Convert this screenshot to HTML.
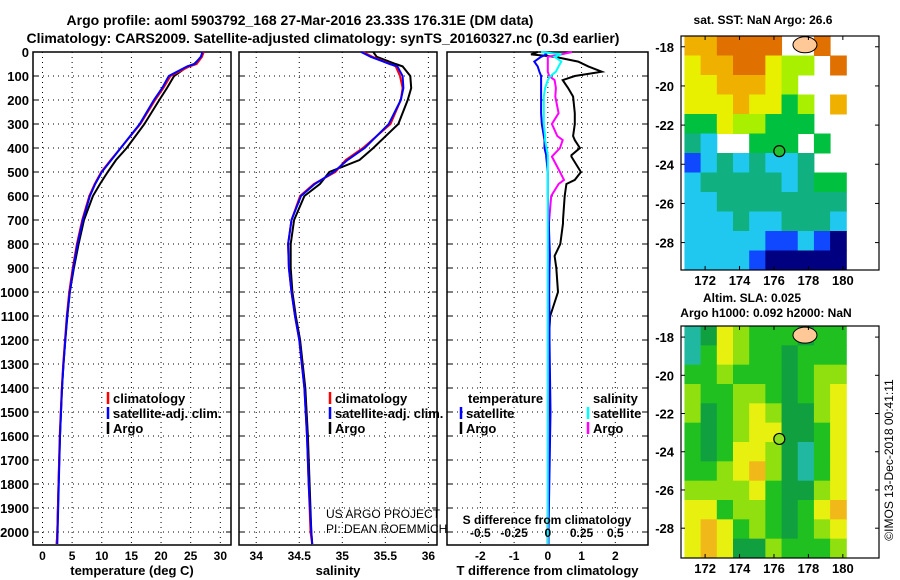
<!DOCTYPE html>
<html><head><meta charset="utf-8"><style>
html,body{margin:0;padding:0;background:#fff}
svg{display:block;font-family:"Liberation Sans",sans-serif}
text{font-weight:bold}
</style></head><body>
<svg id="s" width="900" height="580" viewBox="0 0 900 580" xmlns="http://www.w3.org/2000/svg">
<text x="300" y="25" font-size="14" text-anchor="middle">Argo profile: aoml 5903792_168 27-Mar-2016 23.33S 176.31E (DM data)</text>
<text x="323" y="43" font-size="14" text-anchor="middle">Climatology: CARS2009. Satellite-adjusted climatology: synTS_20160327.nc (0.3d earlier)</text>
<g id="g"></g>
</svg>
<script>
// ---- data ----
const depths = [0,20,50,60,100,150,200,300,400,450,500,550,600,700,800,900,1000,1100,1200,1300,1400,1600,1800,2000,2050];
const tempArgo = [27,26.8,25.6,24.5,22.2,21.0,19.7,17.2,14.2,12.4,11.0,9.7,8.5,7.0,6.1,5.3,4.6,4.2,3.85,3.55,3.3,2.95,2.7,2.5,2.4];
const tempClim = [27.2,26.9,26.0,24.8,21.6,20.4,19.0,16.5,13.2,11.5,9.9,8.8,7.9,6.7,5.8,5.1,4.5,4.1,3.8,3.5,3.25,2.9,2.7,2.5,2.4];
const tempSat  = [27.0,26.7,25.7,24.4,21.3,20.2,18.8,16.4,13.2,11.6,10.0,8.9,8.0,6.8,5.9,5.2,4.6,4.15,3.85,3.55,3.3,2.95,2.75,2.55,2.5];
const salArgo = [35.36,35.40,35.62,35.70,35.79,35.80,35.76,35.65,35.36,35.20,34.85,34.74,34.56,34.44,34.40,34.40,34.42,34.46,34.51,34.54,34.57,34.60,34.62,34.64,34.65];
const salClim = [35.24,35.35,35.56,35.62,35.67,35.70,35.68,35.56,35.24,35.04,34.92,34.67,34.51,34.41,34.37,34.38,34.41,34.45,34.50,34.53,34.56,34.59,34.61,34.63,34.65];
const salSat  = [35.22,35.33,35.55,35.64,35.70,35.71,35.68,35.54,35.26,35.06,34.90,34.68,34.52,34.41,34.37,34.38,34.41,34.45,34.50,34.53,34.56,34.59,34.61,34.64,34.65];
const dDepth = [0,10,20,40,60,82,100,117,150,186,255,300,350,367,400,430,436,500,533,550,600,700,714,800,850,900,1000,1100,1200,1500,2000,2050];
const dTArgo = [-0.3,-0.5,0.2,0.9,1.2,1.6,0.8,0.44,0.6,0.75,0.8,0.8,0.75,0.8,0.95,0.7,0.7,0.98,0.8,0.55,0.5,0.45,0.45,0.37,0.2,0.25,0.3,0.07,0.03,0.02,0.0,0.0];
const dTSat  = [-0.1,-0.05,-0.2,-0.4,-0.3,-0.25,-0.2,-0.2,-0.2,-0.2,-0.2,-0.18,-0.12,-0.1,-0.1,-0.05,-0.05,0.0,0.0,0.0,0.0,0.02,0.03,0.05,0.06,0.05,0.04,0.05,0.05,0.08,0.02,0.02];
const dSArgo = [0.18,0.1,0.0,0.0,0.0,0.0,0.01,0.05,0.06,0.055,0.08,0.03,0.07,0.11,0.09,0.04,0.03,0.09,0.12,0.08,0.025,0.01,0.008,0.005,0.003,0.0,0.0,0.0,0.0,0.0,0.0,0.0];
const dSSat  = [-0.05,0.1,0.05,0.1,0.08,0.06,0.02,0.0,-0.02,-0.03,-0.03,-0.03,-0.02,-0.02,-0.01,0.0,0.0,0.0,0.0,0.0,0.0,0.0,0.0,0.0,0.0,0.0,0.0,0.0,0.0,0.0,0.0,0.0];
const depthTicks = [0,100,200,300,400,500,600,700,800,900,1000,1100,1200,1300,1400,1500,1600,1700,1800,1900,2000];
const tTicks = [0,5,10,15,20,25,30];
const sTicks = [34,34.5,35,35.5,36];
const dTicks = [-2,-1,0,1,2];
const dsTicks = [-0.5,-0.25,0,0.25,0.5];
const dsLabels = ["-0.5","-0.25","0","0.25","0.5"];
const lonTicks = [172,174,176,178,180];
const latTicks = [-18,-20,-22,-24,-26,-28];
const sstGrid = [
[7,7,8,8,8,8,-1,-1,8,-1],
[6,7,7,8,8,6,5,5,-1,8],
[6,6,7,7,7,6,5,-1,-1,-1],
[6,6,6,7,6,6,4,5,-1,7],
[4,4,6,5,5,4,4,4,-1,-1],
[3,2,-1,-1,4,4,4,-1,4,-1],
[1,2,3,2,3,2,2,3,-1,-1],
[2,3,3,3,3,3,2,3,4,4],
[2,2,3,3,3,3,3,3,3,3],
[2,2,2,3,2,2,3,3,3,2],
[2,2,2,2,2,1,1,2,1,0],
[2,2,2,2,1,0,0,0,0,0]];
const slaGrid = [
[0,1,4,3,2,2,2,1,2,2],
[0,2,4,3,2,2,1,2,2,2],
[2,2,3,2,2,2,1,2,3,3],
[3,2,2,3,3,2,1,2,3,4],
[3,1,2,3,4,3,1,1,3,4],
[2,1,2,3,4,4,1,1,2,4],
[2,1,2,4,4,3,1,0,2,4],
[2,2,3,4,5,3,1,0,2,4],
[3,3,3,3,4,2,1,1,3,4],
[4,4,2,3,3,2,1,2,4,5],
[4,5,4,2,3,2,1,2,3,4],
[4,5,4,1,1,3,2,2,2,3]];
const argoLon = 176.31, argoLat = -23.33;

const sstColors = ['#000080','#1048ff','#20c8f0','#10b080','#00c040','#a8f000','#e8f000','#f0b000','#e07000','#ff1000'];
const slaColors = ['#20b8a0','#10a040','#20c020','#90e010','#e8f010','#f0b818'];
const NS='http://www.w3.org/2000/svg';
const G=document.getElementById('g');
function el(t,a,p){const e=document.createElementNS(NS,t);for(const k in a)e.setAttribute(k,a[k]);(p||G).appendChild(e);return e;}
const Y0=52,Y1=545, yD=d=>Y0+d*0.24;
function panel(name,x0,x1,d0,d1,ticks,labels,xlabel,showY){
  const sx=v=>x0+(v-d0)/(d1-d0)*(x1-x0);
  const g=el('g',{});
  
  
  ticks.forEach((t,i)=>{
    const l=el('line',{x1:sx(t),x2:sx(t),y1:Y0,y2:Y1,stroke:'#000','stroke-width':1,'stroke-dasharray':'1,4'},g);
    
    const tx=el('text',{x:sx(t),y:Y1+15,'font-size':12,'text-anchor':'middle'},g);
    
    tx.textContent=labels?labels[i]:String(t);
  });
  depthTicks.forEach(d=>{
    const l=el('line',{x1:x0,x2:x1,y1:yD(d),y2:yD(d),stroke:'#000','stroke-width':1,'stroke-dasharray':'1,4'},g);
    
    el('line',{x1:x0,x2:x0+5,y1:yD(d),y2:yD(d),stroke:'#000'},g);
    el('line',{x1:x1-5,x2:x1,y1:yD(d),y2:yD(d),stroke:'#000'},g);
    if(showY){const tx=el('text',{x:x0-4,y:yD(d)+5,'font-size':13,'text-anchor':'end'},g);
      tx.textContent=d;}
  });
  const r=el('rect',{x:x0,y:Y0,width:x1-x0,height:Y1-Y0,fill:'none',stroke:'#000','stroke-width':1.5},g);
  
  const xl=el('text',{x:(x0+x1)/2,y:575,'font-size':13,'text-anchor':'middle'},g);
  xl.textContent=xlabel;
  return sx;
}
function line(sx,vals,ds,color,name,scale){
  const pts=vals.map((v,i)=>sx(v*(scale||1)).toFixed(1)+','+yD(ds[i]).toFixed(1)).join(' ');
  const p=el('polyline',{points:pts,fill:'none',stroke:color,'stroke-width':2});
  
}
function legend(x,y,color,label,name){
  const l=el('line',{x1:x,x2:x,y1:y-11,y2:y+1,stroke:color,'stroke-width':2.5});
  
  const t=el('text',{x:x+5,y:y,'font-size':13});
  t.textContent=label;
}
// panel 1
const s1=panel('temperature-panel',33,231,-1.6,31.8,tTicks,null,'temperature (deg C)',true);
line(s1,tempArgo,depths,'#000','temp-argo-line');
line(s1,tempClim,depths,'#f00','temp-clim-line');
line(s1,tempSat,depths,'#00f','temp-sat-line');
legend(108,403,'#f00','climatology','legend-climatology');
legend(108,418,'#00f','satellite-adj. clim.','legend-satellite');
legend(108,433,'#000','Argo','legend-argo');
// panel 2
const s2=panel('salinity-panel',239,437,33.8,36.1,sTicks,null,'salinity',false);
line(s2,salArgo,depths,'#000','sal-argo-line');
line(s2,salClim,depths,'#f00','sal-clim-line');
line(s2,salSat,depths,'#00f','sal-sat-line');
legend(330,403,'#f00','climatology','legend-climatology-2');
legend(330,418,'#00f','satellite-adj. clim.','legend-satellite-2');
legend(330,433,'#000','Argo','legend-argo-2');
[['US ARGO PROJECT',518],['PI: DEAN ROEMMICH',533]].forEach(([t,y])=>{
  const e=el('text',{x:326,y:y,'font-size':12,style:'font-weight:normal'});
  e.textContent=t;});
// panel 3
const s3=panel('difference-panel',447,648,-2.99,2.97,dTicks,null,'T difference from climatology',false);
line(s3,dTArgo,dDepth,'#000','tdiff-argo-line');
line(s3,dSArgo,dDepth,'#ff00ff','sdiff-argo-line',4);
line(s3,dTSat,dDepth,'#00f','tdiff-sat-line');
line(s3,dSSat,dDepth,'#00ffff','sdiff-sat-line',4);
dsTicks.forEach((t,i)=>{const e=el('text',{x:s3(t*4),y:537,'font-size':12,'text-anchor':'middle'});
  e.textContent=dsLabels[i];});
{const e=el('text',{x:547,y:524,'font-size':12,'text-anchor':'middle'});e.textContent='S difference from climatology';}
{const e=el('text',{x:468,y:403,'font-size':13});e.textContent='temperature';}
{const e=el('text',{x:593,y:403,'font-size':13});e.textContent='salinity';}
legend(461,418,'#00f','satellite','legend-t-satellite');
legend(461,433,'#000','Argo','legend-t-argo');
legend(588,418,'#00ffff','satellite','legend-s-satellite');
legend(588,433,'#ff00ff','Argo','legend-s-argo');
// maps
function map(name,grid,colors,y0,y1,latTop,latBot,titles,markerColor){
  const x0=681,x1=879,lonL=170.6,lonR=182.1;
  const mx=l=>x0+(l-lonL)/(lonR-lonL)*(x1-x0);
  const my=l=>y0+(latTop-l)/(latTop-latBot)*(y1-y0);
  const g=el('g',{});
  const rows=grid.length, cols=grid[0].length;
  const gLonL=170.8,gLonR=180.2,gLatT=latTop,gLatB=latBot;
  grid.forEach((row,r)=>row.forEach((v,c)=>{
    if(v<0)return;
    const la=gLonL+(gLonR-gLonL)*c/cols, lb=gLonL+(gLonR-gLonL)*(c+1)/cols;
    const ta=gLatT-(gLatT-gLatB)*r/rows, tb=gLatT-(gLatT-gLatB)*(r+1)/rows;
    const e=el('rect',{x:mx(la),y:my(ta),width:mx(lb)-mx(la)+0.5,height:my(tb)-my(ta)+0.5,fill:colors[v]},g);
    
  }));
  const isl=el('ellipse',{cx:mx(177.8),cy:my(-17.9),rx:12,ry:8,fill:'#ffc896',stroke:'#000','stroke-width':1},g);
  
  const fr=el('rect',{x:x0,y:y0,width:x1-x0,height:y1-y0,fill:'none',stroke:'#000','stroke-width':1.2},g);
  
  lonTicks.forEach(l=>{el('line',{x1:mx(l),x2:mx(l),y1:y1,y2:y1-4,stroke:'#000'},g);el('line',{x1:mx(l),x2:mx(l),y1:y0,y2:y0+4,stroke:'#000'},g);
    const t=el('text',{x:mx(l),y:y1+15,'font-size':13,'text-anchor':'middle'},g);t.textContent=l;});
  latTicks.forEach(l=>{el('line',{x1:x0,x2:x0+4,y1:my(l),y2:my(l),stroke:'#000'},g);el('line',{x1:x1,x2:x1-4,y1:my(l),y2:my(l),stroke:'#000'},g);
    const t=el('text',{x:x0-7,y:my(l)+5,'font-size':13,'text-anchor':'end'},g);t.textContent=l;});
  const m=el('circle',{cx:mx(argoLon),cy:my(argoLat),r:5.5,fill:markerColor,stroke:'#000','stroke-width':1.2},g);
  
  titles.forEach(([t,x,y])=>{const e=el('text',{x:x,y:y,'font-size':12,'text-anchor':'middle'},g);e.textContent=t;});
}
map('sst-map',sstGrid,sstColors,36,270,-17.45,-29.4,[['sat. SST: NaN Argo: 26.6',763,24]],'#20c030');
map('sla-map',slaGrid,slaColors,326,558,-17.42,-29.56,[['Altim. SLA: 0.025',752,302],['Argo h1000: 0.092 h2000: NaN',766,317]],'#90e020');
{const e=el('text',{x:0,y:0,'font-size':12,'text-anchor':'middle',transform:'translate(893,460) rotate(-90)',style:'font-weight:normal'});
 e.textContent='©IMOS 13-Dec-2018 00:41:11';}
</script>
</body></html>
